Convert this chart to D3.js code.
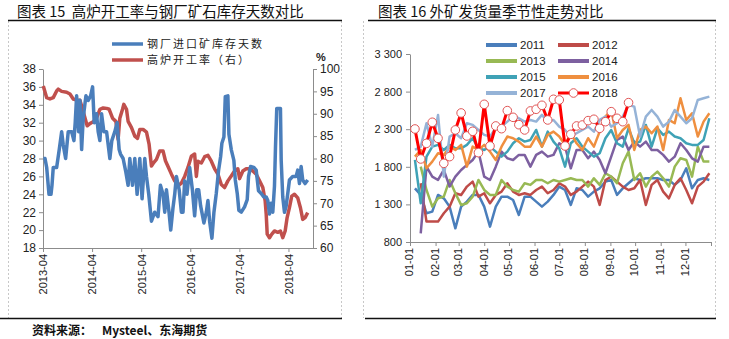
<!DOCTYPE html>
<html><head><meta charset="utf-8">
<script src="https://cdn.jsdelivr.net/npm/d3@7"></script>
<style>body{margin:0;background:#fff;} svg{display:block;}</style>
</head><body>
<svg id="c" width="729" height="339"></svg>
<script>
// ---------- Left chart data (decimal year, value) ----------
const leftTickYears = [2013.25, 2014.25, 2015.25, 2016.25, 2017.25, 2018.25];
const leftTickLabels = ["2013-04","2014-04","2015-04","2016-04","2017-04","2018-04"];
const leftYTicks = [18,20,22,24,26,28,30,32,34,36,38];
const rightYTicks = [60,65,70,75,80,85,90,95,100];
const leftSeriesNames = ["钢厂进口矿库存天数", "高炉开工率（右）"];

const inventoryDays = [[2013.256,28],[2013.291,28],[2013.325,27],[2013.372,24],[2013.413,24],[2013.433,25],[2013.459,27],[2013.528,27],[2013.581,29],[2013.630,31],[2013.663,29.5],[2013.711,28],[2013.764,31],[2013.833,31],[2013.880,30],[2013.906,32],[2013.935,35],[2013.976,31],[2014.002,34.5],[2014.037,29],[2014.069,32.5],[2014.124,35],[2014.171,34.5],[2014.220,35],[2014.260,36],[2014.293,32],[2014.341,33],[2014.374,31],[2014.409,30],[2014.443,33],[2014.490,31],[2014.545,31],[2014.612,28],[2014.652,30],[2014.713,31],[2014.760,32],[2014.801,29],[2014.829,28.5],[2014.882,28],[2014.937,26.5],[2014.984,25],[2015.018,28],[2015.073,25],[2015.120,28],[2015.167,24],[2015.222,28],[2015.268,23.5],[2015.323,28],[2015.358,26],[2015.404,24],[2015.459,21],[2015.526,22],[2015.593,21.5],[2015.642,25],[2015.695,24],[2015.730,22],[2015.764,24.5],[2015.817,22],[2015.852,20],[2015.898,22.5],[2015.933,24],[2015.967,26],[2016.024,24.5],[2016.069,22],[2016.102,22],[2016.136,25.5],[2016.183,24],[2016.238,27],[2016.293,24.5],[2016.339,21.6],[2016.380,24.5],[2016.421,24.5],[2016.461,22.7],[2016.528,20.8],[2016.577,22],[2016.610,23.3],[2016.644,21],[2016.691,19.1],[2016.732,22],[2016.780,24.1],[2016.827,26.7],[2016.868,28.2],[2016.894,29.7],[2016.935,30.4],[2016.963,34.9],[2017.016,35],[2017.037,30.7],[2017.085,29],[2017.138,27.8],[2017.167,25.6],[2017.207,24.1],[2017.240,22.2],[2017.289,22],[2017.356,22.6],[2017.410,23.4],[2017.437,26],[2017.478,27.1],[2017.545,27],[2017.593,26.7],[2017.640,24.4],[2017.695,24.1],[2017.748,23.7],[2017.797,23.7],[2017.829,23.3],[2017.864,21.8],[2017.898,23],[2017.931,22],[2017.965,24.9],[2017.986,29.3],[2018.012,33.6],[2018.053,33.6],[2018.087,33.6],[2018.102,27.8],[2018.134,23.7],[2018.169,22],[2018.203,22.7],[2018.236,24.1],[2018.270,25.6],[2018.337,26],[2018.406,26],[2018.439,26.7],[2018.474,25.2],[2018.508,27.1],[2018.541,25.6],[2018.589,25.2],[2018.642,25.6]];

const furnaceRate = [[2013.256,96.2],[2013.325,93.6],[2013.392,93.3],[2013.459,93.6],[2013.528,95.1],[2013.561,95.5],[2013.630,95],[2013.732,94.8],[2013.799,94.4],[2013.866,93.3],[2013.921,93.1],[2014.002,93],[2014.057,91],[2014.104,89.1],[2014.150,87.3],[2014.205,87.8],[2014.272,88.2],[2014.341,89],[2014.409,91],[2014.476,91.3],[2014.545,91.2],[2014.598,91],[2014.667,89],[2014.734,88.3],[2014.780,84.3],[2014.815,89],[2014.870,91],[2014.896,92.1],[2014.951,91],[2014.984,88.3],[2015.053,86.9],[2015.120,85],[2015.175,84.5],[2015.222,86.5],[2015.289,86.5],[2015.358,85.9],[2015.411,83.2],[2015.459,78.3],[2015.506,79.1],[2015.561,79.8],[2015.628,81.7],[2015.695,81.7],[2015.744,79.5],[2015.797,78.2],[2015.866,76.5],[2015.933,75],[2016.000,73.9],[2016.069,74.5],[2016.136,76],[2016.203,78],[2016.272,80.5],[2016.339,81],[2016.374,76],[2016.406,79.4],[2016.476,79],[2016.543,80.4],[2016.610,80.7],[2016.679,79.4],[2016.746,77.7],[2016.813,76.5],[2016.882,74.2],[2016.949,73.5],[2017.016,75],[2017.085,76.1],[2017.152,77.2],[2017.219,77.7],[2017.254,75.5],[2017.321,77.2],[2017.390,77.7],[2017.457,77.7],[2017.524,77.2],[2017.593,76.5],[2017.661,75],[2017.728,73.5],[2017.776,70.5],[2017.797,67.5],[2017.817,63.1],[2017.864,62.3],[2017.911,63.1],[2017.965,63.8],[2018.032,63.5],[2018.087,63.8],[2018.134,62.3],[2018.183,63.8],[2018.223,66.8],[2018.270,69],[2018.317,71.6],[2018.372,72],[2018.439,71.2],[2018.494,69],[2018.541,66.4],[2018.589,66.8],[2018.642,67.9]];

// ---------- Right chart data (weekly shipments, week index 0..51) ----------
const monthLabels = ["01-01","02-01","03-01","04-01","05-01","06-01","07-01","08-01","09-01","10-01","11-01","12-01"];
const monthStartDays = [0,31,59,90,120,151,181,212,243,273,304,334];
const shipYTicks = [800,1300,1800,2300,2800,3300];
const shipYLabels = ["800","1 300","1 800","2 300","2 800","3 300"];
const shipYears = ["2011","2012","2013","2014","2015","2016","2017","2018"];

const ship2011 = [1514,1426,1182,1204,1426,1381,1270,982,1270,1337,1426,1426,1270,1004,1270,1403,1403,1359,1160,1403,1403,1337,1270,1337,1426,1537,1492,1293,1514,1492,1403,1470,1514,1603,1625,1426,1514,1581,1647,1625,1647,1647,1647,1625,1625,1559,1625,1780,1514,1625,1647,1625];
const ship2012 = [null,1581,1071,1071,1071,1182,1270,1448,1426,1537,1603,1403,1448,1315,1426,1470,1581,1470,1426,1448,1426,1492,1537,1448,1492,1581,1537,1426,1470,1537,1603,1537,1293,1625,1669,1603,1537,1492,1514,1625,1293,1559,1625,1470,1381,1559,1647,1492,1315,1537,1603,1714];
const ship2013 = [null,1802,1492,1270,1381,1403,1625,1448,1293,1315,1403,1625,1492,1426,1426,1625,1537,1492,1470,1581,1559,1625,1625,1581,1625,1603,1625,1647,1625,1625,1537,1647,1559,1714,1669,1581,1847,2002,1625,1714,1537,1669,1736,1647,1537,1802,1913,1891,1669,2068,1869,1869];
const ship2014 = [null,916,1802,1669,1625,1758,1537,1669,1758,1825,1891,2002,1669,1625,1802,2002,1913,1891,1958,1958,1802,1958,2002,1935,1958,2113,2068,1780,2024,2024,1913,2002,1891,1714,1935,2157,2202,2024,2135,2068,2135,2024,2024,1958,1869,1935,2113,2024,1913,1869,2068,2068];
const ship2015 = [1891,1315,1935,2068,2091,2024,2091,2046,2046,2091,2180,2046,2024,2068,2002,1935,2002,2113,2180,2135,2157,2290,2068,2268,2135,2046,1802,2113,2180,2068,2002,1935,1980,2180,2290,2113,2068,2312,2113,2135,2357,2068,2312,2224,2268,2202,2180,2113,2091,2091,2157,2445];
const ship2016 = [1935,2024,1780,1869,1980,1958,2068,2024,2091,1802,2068,2024,2091,2002,1891,2068,2202,2180,2135,2068,2068,2202,2068,2224,2268,2202,2091,2246,2113,2024,2180,2068,2268,2468,2556,2180,2290,2357,2024,2290,2335,2246,2335,2024,2423,2379,2711,2423,2512,2202,2401,2512];
const ship2017 = [2024,2068,2379,2068,2490,1669,2202,2246,2180,2379,2357,2290,2224,2202,2312,2335,2401,2468,2445,2401,2423,2401,2490,2401,2423,2335,2290,2202,2246,2290,2335,2268,2423,2468,2335,2379,2468,2622,2600,2202,2468,2556,2468,2335,2401,2556,2468,2379,2445,2689,2711,2733];
const ship2018 = [2303,1904,2112,2392,2179,1846,1935,2290,2516,2210,2272,1988,2631,2077,2343,2307,2547,2458,2360,2290,2543,2565,2618,2423,2698,2689,2077,2232,2343,2356,2414,2432,2312,2400,2533,2445,2400,2653];

// ---------- drawing ----------
const svg = d3.select("#c");
const NUM = "'Liberation Sans', Arial, sans-serif";
const CJK = "'Noto Sans CJK SC', 'Noto Sans', sans-serif";
const AXIS = "#8c8c8c";

function frame(x0, x1) {
  [x0, x1].forEach(x => svg.append("line").attr("x1", x).attr("x2", x).attr("y1", 21).attr("y2", 318)
    .attr("stroke", "#c8c8c8").attr("stroke-dasharray", "2,2"));
}
frame(8.5, 341.5);
frame(363.5, 715.5);
svg.append("line").attr("x1", 8).attr("x2", 342).attr("y1", 20.5).attr("y2", 20.5).attr("stroke", "#111").attr("stroke-width", 1.5);
svg.append("line").attr("x1", 368).attr("x2", 716).attr("y1", 20.5).attr("y2", 20.5).attr("stroke", "#111").attr("stroke-width", 1.5);
svg.append("line").attr("x1", 0).attr("x2", 342).attr("y1", 318.5).attr("y2", 318.5).attr("stroke", "#111").attr("stroke-width", 1.5);
svg.append("line").attr("x1", 365).attr("x2", 716).attr("y1", 318.5).attr("y2", 318.5).attr("stroke", "#111").attr("stroke-width", 1.5);

// titles
svg.append("text").attr("x", 17).attr("y", 16.5).attr("font-family", CJK).attr("font-size", 14.5)
  .attr("fill", "#111").attr("xml:space", "preserve").text("图表 15  高炉开工率与钢厂矿石库存天数对比");
svg.append("text").attr("x", 378).attr("y", 16.5).attr("font-family", CJK).attr("font-size", 14.5)
  .attr("fill", "#111").text("图表 16  外矿发货量季节性走势对比");

// footer
const foot = svg.append("text").attr("x", 32).attr("y", 335).attr("font-family", CJK).attr("font-size", 12)
  .attr("font-weight", "bold").attr("fill", "#111");
foot.append("tspan").text("资料来源：");
foot.append("tspan").attr("x", 102).text("Mysteel、东海期货");

// ---------------- LEFT CHART ----------------
const xL = d3.scaleLinear().domain([2013.25, 2018.75]).range([43, 313]);
const yL = d3.scaleLinear().domain([18, 38]).range([248, 69]);
const yR = d3.scaleLinear().domain([60, 100]).range([248, 69]);

function styleAxis(g) {
  g.selectAll("path").attr("stroke", AXIS);
  g.selectAll("line").attr("stroke", AXIS);
  g.selectAll("text").attr("fill", "#222").attr("font-family", NUM).attr("font-size", 11);
}

const gxL = svg.append("g").attr("transform", "translate(0,248)")
  .call(d3.axisBottom(xL).tickValues(leftTickYears).tickFormat((d, i) => leftTickLabels[i]).tickSize(4).tickSizeOuter(0));
styleAxis(gxL);
gxL.selectAll("text").attr("transform", "rotate(-90)").attr("x", -6).attr("y", 0).attr("dy", "0.35em").style("text-anchor", "end");

const gyL = svg.append("g").attr("transform", "translate(43,0)")
  .call(d3.axisLeft(yL).tickValues(leftYTicks).tickSize(4).tickSizeOuter(0).tickPadding(3));
styleAxis(gyL);
gyL.selectAll("text").attr("font-size", 12);
const gyR = svg.append("g").attr("transform", "translate(313,0)")
  .call(d3.axisRight(yR).tickValues(rightYTicks).tickSize(4).tickSizeOuter(0).tickPadding(3));
styleAxis(gyR);
gyR.selectAll("text").attr("font-size", 12);
svg.append("text").attr("x", 316).attr("y", 61).attr("font-family", NUM).attr("font-size", 11)
  .attr("font-weight", "bold").attr("fill", "#222").text("%");

const blueC = "#4a7ebb", redC = "#c0504d";
svg.append("path").datum(furnaceRate)
  .attr("d", d3.line().x(d => xL(d[0])).y(d => yR(d[1])))
  .attr("fill", "none").attr("stroke", redC).attr("stroke-width", 3.5).attr("stroke-linejoin", "round");
svg.append("path").datum(inventoryDays)
  .attr("d", d3.line().x(d => xL(d[0])).y(d => yL(d[1])))
  .attr("fill", "none").attr("stroke", blueC).attr("stroke-width", 3.5).attr("stroke-linejoin", "round");

// left legend
[[blueC, 44], [redC, 60]].forEach(([c, y], i) => {
  svg.append("line").attr("x1", 112).attr("x2", 143).attr("y1", y).attr("y2", y)
    .attr("stroke", c).attr("stroke-width", 3.5);
  svg.append("text").attr("x", 147).attr("y", y + 4).attr("font-family", CJK).attr("font-size", 11)
    .attr("letter-spacing", 2).attr("fill", "#222").text(leftSeriesNames[i]);
});

// ---------------- RIGHT CHART ----------------
const xS = d3.scaleLinear().domain([0, 365]).range([410, 711]);
const yS = d3.scaleLinear().domain([800, 3300]).range([242, 54]);

const gxS = svg.append("g").attr("transform", "translate(0,242)")
  .call(d3.axisBottom(xS).tickValues(monthStartDays.concat([365]))
    .tickFormat((d, i) => i < monthLabels.length ? monthLabels[i] : "").tickSize(4).tickSizeOuter(0));
styleAxis(gxS);
gxS.selectAll("text").attr("transform", "rotate(-90)").attr("x", -6).attr("y", -1).attr("dy", "0.35em").style("text-anchor", "end");
const gyS = svg.append("g").attr("transform", "translate(410,0)")
  .call(d3.axisLeft(yS).tickValues(shipYTicks).tickFormat((d, i) => shipYLabels[i]).tickSize(4).tickSizeOuter(0).tickPadding(4));
styleAxis(gyS);

const shipSeries = [ship2011, ship2012, ship2013, ship2014, ship2015, ship2016, ship2017, ship2018];
const shipColors = ["#4a7ebb", "#be4b48", "#98b954", "#7d60a0", "#3fa2b6", "#ef8f3f", "#95b3d7", "#ff0000"];
const weekDay = k => 6 + 7 * k;
const shipLine = d3.line().defined(d => d != null).x((d, i) => xS(weekDay(i))).y(d => yS(d));

shipSeries.forEach((s, j) => {
  svg.append("path").datum(s).attr("d", shipLine)
    .attr("fill", "none").attr("stroke", shipColors[j])
    .attr("stroke-width", j === 7 ? 3 : 2.5).attr("stroke-linejoin", "round");
});
svg.append("g").selectAll("circle").data(ship2018).join("circle")
  .attr("cx", (d, i) => xS(weekDay(i))).attr("cy", d => yS(d)).attr("r", 4.3)
  .attr("fill", "#fff").attr("stroke", "#e05555").attr("stroke-width", 1);

// right legend
shipYears.forEach((yr, j) => {
  const col = j % 2, row = Math.floor(j / 2);
  const lx = col === 0 ? 486 : 558, ly = 45 + row * 16;
  svg.append("line").attr("x1", lx).attr("x2", lx + 31).attr("y1", ly).attr("y2", ly)
    .attr("stroke", shipColors[j]).attr("stroke-width", j === 7 ? 3 : 4);
  if (j === 7) {
    svg.append("circle").attr("cx", lx + 15.5).attr("cy", ly).attr("r", 4.3)
      .attr("fill", "#fff").attr("stroke", "#e05555").attr("stroke-width", 1);
  }
  svg.append("text").attr("x", lx + 34).attr("y", ly + 4).attr("font-family", NUM).attr("font-size", 11.5)
    .attr("fill", "#222").text(yr);
});
</script>
</body></html>
